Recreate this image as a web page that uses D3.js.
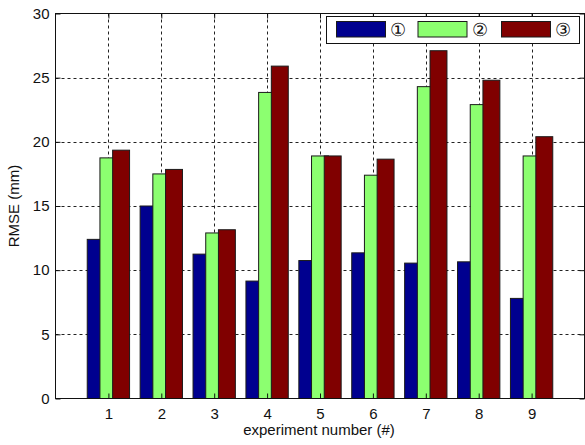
<!DOCTYPE html>
<html>
<head>
<meta charset="utf-8">
<script src="https://cdn.jsdelivr.net/npm/d3@7/dist/d3.min.js"></script>
<style>
  html, body { margin: 0; padding: 0; background: #fff; }
  svg { display: block; }
  text { font-family: "Liberation Sans", Arial, sans-serif; fill: #111; }
</style>
</head>
<body>
<svg id="chart" width="585" height="445"></svg>
<script>
// Experiment numbers on the x axis
const experiments = [1, 2, 3, 4, 5, 6, 7, 8, 9];
// RMSE (mm) of the three methods per experiment
const method1 = [12.4, 15.0, 11.25, 9.15, 10.75, 11.35, 10.55, 10.65, 7.8];
const method2 = [18.75, 17.5, 12.9, 23.85, 18.9, 17.4, 24.3, 22.9, 18.9];
const method3 = [19.35, 17.85, 13.15, 25.9, 18.9, 18.65, 27.1, 24.8, 20.4];
const seriesNames = ["\u2460", "\u2461", "\u2462"];
const seriesColors = ["#00008f", "#8cff70", "#800000"];
const yTicks = [0, 5, 10, 15, 20, 25, 30];

const series = [method1, method2, method3];

const svg = d3.select("#chart");
const plotLeft = 55.5, plotRight = 584.5, plotTop = 13.5, plotBottom = 398.5;

const x = d3.scaleLinear().domain([0, 10]).range([plotLeft, plotRight]);
const y = d3.scaleLinear().domain([0, 30]).range([plotBottom, plotTop]);

// bar geometry in x-axis units (bars in a group overlap slightly)
const barOffset = 0.24, barWidth = 0.32;

// dashed grid
const grid = svg.append("g")
  .attr("stroke", "#222").attr("stroke-width", 1).attr("stroke-dasharray", "3,3");
grid.selectAll("line.v").data(experiments).join("line")
  .attr("x1", d => Math.round(x(d)) + 0.5).attr("x2", d => Math.round(x(d)) + 0.5)
  .attr("y1", plotTop).attr("y2", plotBottom);
grid.selectAll("line.h").data(yTicks.slice(1, -1)).join("line")
  .attr("y1", d => Math.round(y(d)) + 0.5).attr("y2", d => Math.round(y(d)) + 0.5)
  .attr("x1", plotLeft).attr("x2", plotRight);

// bars
series.forEach((vals, s) => {
  svg.append("g").selectAll("rect").data(vals).join("rect")
    .attr("x", (d, i) => x(experiments[i] + (s - 1) * barOffset - barWidth / 2))
    .attr("width", x(barWidth) - x(0))
    .attr("y", d => y(d))
    .attr("height", d => y(0) - y(d))
    .attr("fill", seriesColors[s])
    .attr("stroke", "#1a1a1a").attr("stroke-width", 1);
});

// axes with inward ticks on all four sides
const tickLen = 5;
const xAxisB = d3.axisBottom(x).tickValues(experiments).tickSizeInner(-tickLen).tickSizeOuter(0).tickPadding(10).tickFormat(d3.format("d"));
const yAxisL = d3.axisLeft(y).tickValues(yTicks).tickSizeInner(-tickLen).tickSizeOuter(0).tickPadding(6).tickFormat(d3.format("d"));
const xAxisT = d3.axisTop(x).tickValues(experiments).tickSizeInner(-tickLen).tickSizeOuter(0).tickFormat("");
const yAxisR = d3.axisRight(y).tickValues(yTicks).tickSizeInner(-tickLen).tickSizeOuter(0).tickFormat("");

function styleAxis(g) {
  g.select(".domain").remove();
  g.selectAll(".tick line").attr("stroke", "#111");
  g.selectAll("text").attr("font-size", 15).attr("fill", "#111")
    .attr("font-family", "'Liberation Sans', Arial, sans-serif");
}
svg.append("g").attr("transform", `translate(0,${plotBottom})`).call(xAxisB).call(styleAxis);
svg.append("g").attr("transform", `translate(${plotLeft},0)`).call(yAxisL).call(styleAxis);
svg.append("g").attr("transform", `translate(0,${plotTop})`).call(xAxisT).call(styleAxis);
svg.append("g").attr("transform", `translate(${plotRight},0)`).call(yAxisR).call(styleAxis);

// plot frame
svg.append("rect")
  .attr("x", plotLeft).attr("y", plotTop).attr("width", plotRight - plotLeft).attr("height", plotBottom - plotTop)
  .attr("fill", "none").attr("stroke", "#111").attr("stroke-width", 1);

// axis titles
svg.append("text")
  .attr("x", (plotLeft + plotRight) / 2 - 1).attr("y", 435)
  .attr("text-anchor", "middle").attr("font-size", 15)
  .text("experiment number (#)");
svg.append("text")
  .attr("transform", `translate(19,${(plotTop + plotBottom) / 2}) rotate(-90)`)
  .attr("text-anchor", "middle").attr("font-size", 15)
  .text("RMSE (mm)");

// legend
const legend = svg.append("g");
legend.append("rect")
  .attr("x", 326.5).attr("y", 16.5).attr("width", 253).attr("height", 27)
  .attr("fill", "#fff").attr("stroke", "#111").attr("stroke-width", 1);
const itemX = [336, 417.5, 501];
seriesNames.forEach((name, s) => {
  legend.append("rect")
    .attr("x", itemX[s] + 0.5).attr("y", 21.5).attr("width", 49).attr("height", 15.5)
    .attr("fill", seriesColors[s]).attr("stroke", "#1a1a1a");
  legend.append("text")
    .attr("x", itemX[s] + 54).attr("y", 36)
    .attr("font-size", 18).attr("font-family", "'DejaVu Sans', sans-serif")
    .text(name);
});
</script>
</body>
</html>
